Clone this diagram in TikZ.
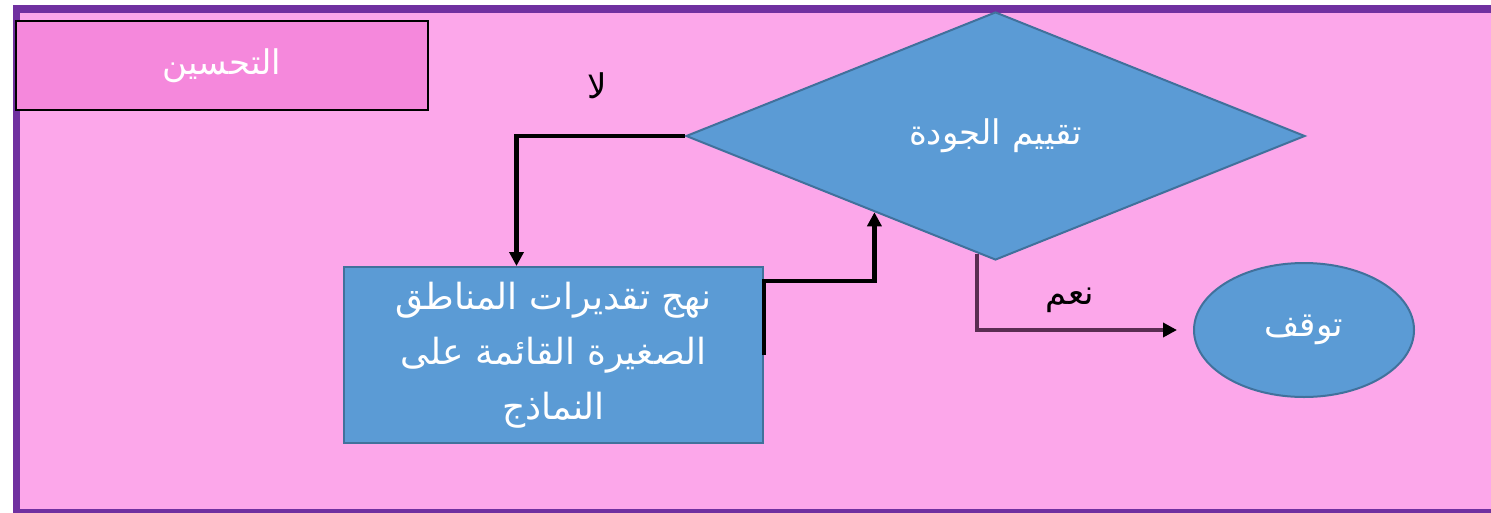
\documentclass[tikz,border=0pt]{standalone}
\usepackage{fontspec}
\newfontfamily\arabicfont[Script=Arabic]{DejaVu Sans}
\TeXXeTstate=1
\usetikzlibrary{shapes.geometric,arrows.meta,calc}
\definecolor{bgpink}{RGB}{252,167,234}
\definecolor{titlepink}{RGB}{245,136,220}
\definecolor{framepurple}{RGB}{112,48,160}
\definecolor{shapeblue}{RGB}{91,155,213}
\definecolor{shapeedge}{RGB}{65,113,156}
\definecolor{yesline}{RGB}{90,45,82}
\tikzset{
  bluefill/.style={fill=shapeblue, draw=shapeedge, line width=2pt, inner sep=0pt, text=white, font=\arabicfont\fontsize{34}{40}\selectfont},
  conn/.style={draw=black, line width=4.5pt, -{Triangle[length=14pt,width=14pt]}},
  lbl/.style={font=\arabicfont\fontsize{34}{40}\selectfont, text=black, inner sep=0pt}
}
\begin{document}
\begin{tikzpicture}[x=1pt,y=-1pt]
\useasboundingbox (0,0) rectangle (1491,512);
\fill[white] (0,0) rectangle (1491,512);
% outer frame
\draw[fill=bgpink, draw=framepurple, line width=7.5pt] (16.5,9) rectangle (1500,513);
% title box
\node[draw=black, line width=2.5pt, fill=titlepink, minimum width=412pt, minimum height=89pt, inner sep=0pt, text=white, font=\arabicfont\fontsize{34}{40}\selectfont] (t) at (222,65.5) {\beginR التحسين\endR};
% decision
\node[bluefill, diamond, aspect=2.5, minimum width=619pt, minimum height=248pt] (q) at (995.5,136) {\beginR تقييم الجودة\endR};
% process
\node[bluefill, rectangle, minimum width=419pt, minimum height=176pt, align=center, font=\arabicfont\fontsize{36}{55}\selectfont] (r) at (553.5,355) {\beginR نهج تقديرات المناطق\endR\\\beginR الصغيرة القائمة على\endR\\\beginR النماذج\endR};
% stop
\node[bluefill, ellipse, minimum width=220pt, minimum height=134pt] (e) at (1304,330) {\beginR توقف\endR};
% connectors
\draw[conn] (q.west) -| ($(r.north)+(-37,0)$);
\draw[conn] (r.east) -- ++(0,-74) -| ($(q.west)!0.61!(q.south)$);
\draw[draw=yesline, line width=3.5pt, shorten >=16pt, -{Triangle[length=14pt,width=14pt,color=black]}] ($(q.west)!0.94!(q.south)$) |- (e.west);
% labels
\node[lbl] (no) at (597,86) {\beginR لا\endR};
\node[lbl] (yes) at (1070,300) {\beginR نعم\endR};
\end{tikzpicture}
\end{document}
